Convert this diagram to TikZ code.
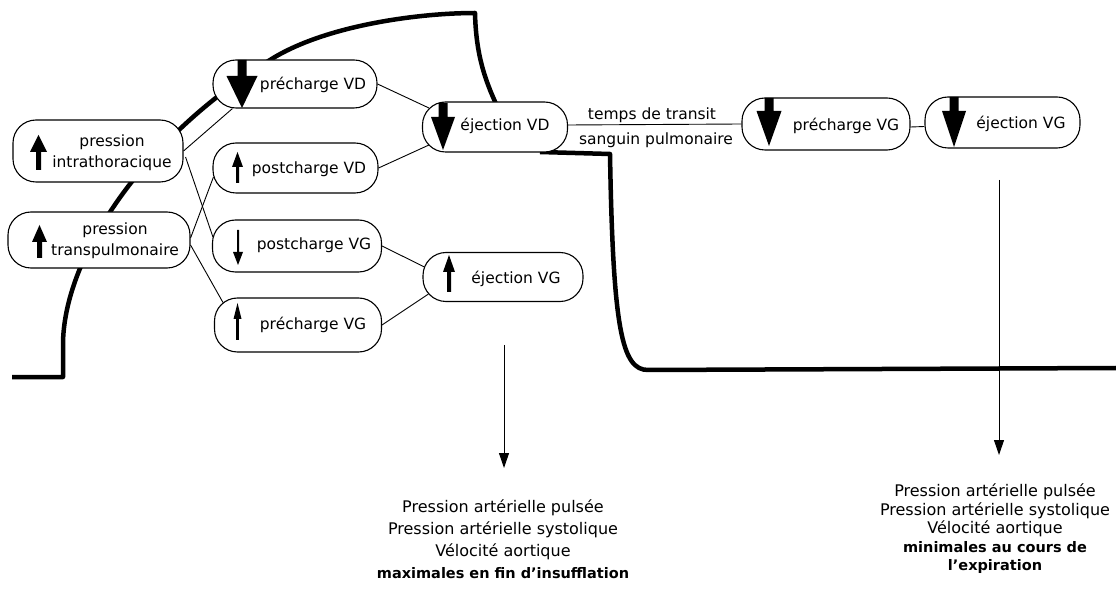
\documentclass[tikz,border=0pt]{standalone}
\usepackage{fontspec}
\setmainfont{DejaVu Sans}
\usetikzlibrary{calc,arrows.meta}
\newcommand\dnarr[6]{\fill (#1-#4,#2) -- (#1+#4,#2) -- (#1+#4,#3-#6) -- (#1+#5,#3-#6) -- (#1,#3) -- (#1-#5,#3-#6) -- (#1-#4,#3-#6) -- cycle;}
\newcommand\uparr[6]{\fill (#1,#2) -- (#1+#5,#2+#6) -- (#1+#4,#2+#6) -- (#1+#4,#3) -- (#1-#4,#3) -- (#1-#4,#2+#6) -- (#1-#5,#2+#6) -- cycle;}
\begin{document}
\begin{tikzpicture}[x=1pt,y=-1pt,
  box/.style={draw, line width=1.1pt, rounded corners=23pt, fill=white, inner sep=0pt},
  lbl/.style={font=\fontsize{15.5}{21}\selectfont, align=center, inner sep=0pt},
  small/.style={font=\fontsize{15.5}{18}\selectfont, inner sep=0pt},
  conn/.style={line width=0.9pt},
  curve/.style={line width=4.5pt, line join=round},
  outarrow/.style={line width=1pt, -{Triangle[length=15pt,width=10pt]}},
  resleft/.style={font=\fontsize{16}{22}\selectfont, align=center, inner sep=0pt},
  resright/.style={font=\fontsize{16}{18.5}\selectfont, align=center, inner sep=0pt}]
\useasboundingbox (0,0) rectangle (1116,601);
\fill[white] (0,0) rectangle (1116,601);

% thick pressure curve
\draw[curve] (12,377) -- (63,377) -- (63,345) .. controls (63,260) and (140,140) .. (270,60)
  .. controls (325,25) and (420,13) .. (475,13) .. controls (476,55) and (485,80) .. (497,106);
\draw[curve] (540,152) -- (610,154) .. controls (613,330) and (622,370) .. (648,370) -- (1116,368);

% boxes
\node[box, minimum width=170pt, minimum height=62pt] (it) at (98,151) {};
\node[box, minimum width=182pt, minimum height=56pt] (tp) at (99,240) {};
\node[box, minimum width=164pt, minimum height=48pt] (pvd) at (295,84) {};
\node[box, minimum width=165pt, minimum height=50pt] (pcd) at (295.5,168) {};
\node[box, minimum width=169pt, minimum height=52pt] (pcg) at (297,246) {};
\node[box, minimum width=167pt, minimum height=54pt] (pvgl) at (298,325) {};
\node[box, minimum width=145pt, minimum height=50pt] (ejvd) at (495,127) {};
\node[box, minimum width=160pt, minimum height=49pt] (ejvg) at (503,277) {};
\node[box, minimum width=168pt, minimum height=52pt] (pvgr) at (826,124) {};
\node[box, minimum width=155pt, minimum height=51pt] (ejvgr) at (1002.5,122.5) {};

% connectors
\draw[conn] (it.east) -- ($(pvd.south west)+(20,0)$);
\draw[conn] ($(it.east)+(2,6)$) -- ($(pcg.west)+(1,-9)$);
\draw[conn] ($(tp.east)+(0,-2)$) -- ($(pcd.west)+(1,9)$);
\draw[conn] ($(tp.east)+(0,5)$) -- ($(pvgl.north west)+(9,5)$);
\draw[conn] (pvd.east) -- ($(ejvd.west)+(7,-19)$);
\draw[conn] (pcd.east) -- ($(ejvd.west)+(7,18)$);
\draw[conn] (pcg.east) -- ($(ejvg.west)+(2,-10)$);
\draw[conn] (pvgl.east) -- ($(ejvg.west)+(6,17)$);
\draw[conn] ($(ejvd.east)+(0,-2)$) -- (pvgr.west);
\draw[conn] ($(pvgr.east)+(0,3)$) -- ($(ejvgr.west)+(0,4)$);

% arrow icons
\dnarr{242}{60}{108}{4.5}{15.5}{32}
\dnarr{443}{103}{150}{4.5}{12}{33}
\dnarr{769}{98}{146}{4.5}{12.5}{35}
\dnarr{954}{97}{147}{4.5}{12}{36}
\uparr{38.5}{135}{170}{2.5}{8.5}{17}
\uparr{39.5}{225}{258}{2.5}{7.5}{17}
\uparr{237.5}{152}{183}{1.5}{5.5}{15}
\dnarr{238}{230}{265}{1}{5}{13}
\uparr{237.5}{303}{340}{1.3}{4}{16}
\uparr{449}{255}{292}{2}{6}{17}

% box texts
\node[lbl] (itt) at (112,153) {pression\\intrathoracique};
\node[lbl] (tpt) at (115,241) {pression\\transpulmonaire};
\node[lbl] (pvdt) at (313,85) {précharge VD};
\node[lbl] (pcdt) at (309,169) {postcharge VD};
\node[lbl] (pcgt) at (314,245) {postcharge VG};
\node[lbl] (pvglt) at (313,325) {précharge VG};
\node[lbl] (ejvdt) at (505,126) {éjection VD};
\node[lbl] (ejvgt) at (516,279) {éjection VG};
\node[lbl] (pvgrt) at (846,126) {précharge VG};
\node[lbl] (ejvgrt) at (1021,124) {éjection VG};

% transit labels
\node[small] (tr1) at (652,115) {temps de transit};
\node[small] (tr2) at (656,140) {sanguin pulmonaire};

% outcome arrows
\coordinate (a1s) at (504,345);
\coordinate (a1e) at (504,468);
\coordinate (a2s) at (999,180);
\coordinate (a2e) at (999,455);
\draw[outarrow] (a1s) -- (a1e);
\draw[outarrow] (a2s) -- (a2e);

% result texts
\node[resleft] (resl) at (503,539) {Pression artérielle pulsée\\Pression artérielle systolique\\Vélocité aortique\\{\fontsize{14.5}{22}\selectfont\bfseries maximales en fin d'insufflation}};
\node[resright] (resr) at (995,529) {Pression artérielle pulsée\\Pression artérielle systolique\\Vélocité aortique\\{\fontsize{14.5}{18.5}\selectfont\bfseries minimales au cours de}\\{\fontsize{14.5}{18.5}\selectfont\bfseries l'expiration}};
\end{tikzpicture}
\end{document}
